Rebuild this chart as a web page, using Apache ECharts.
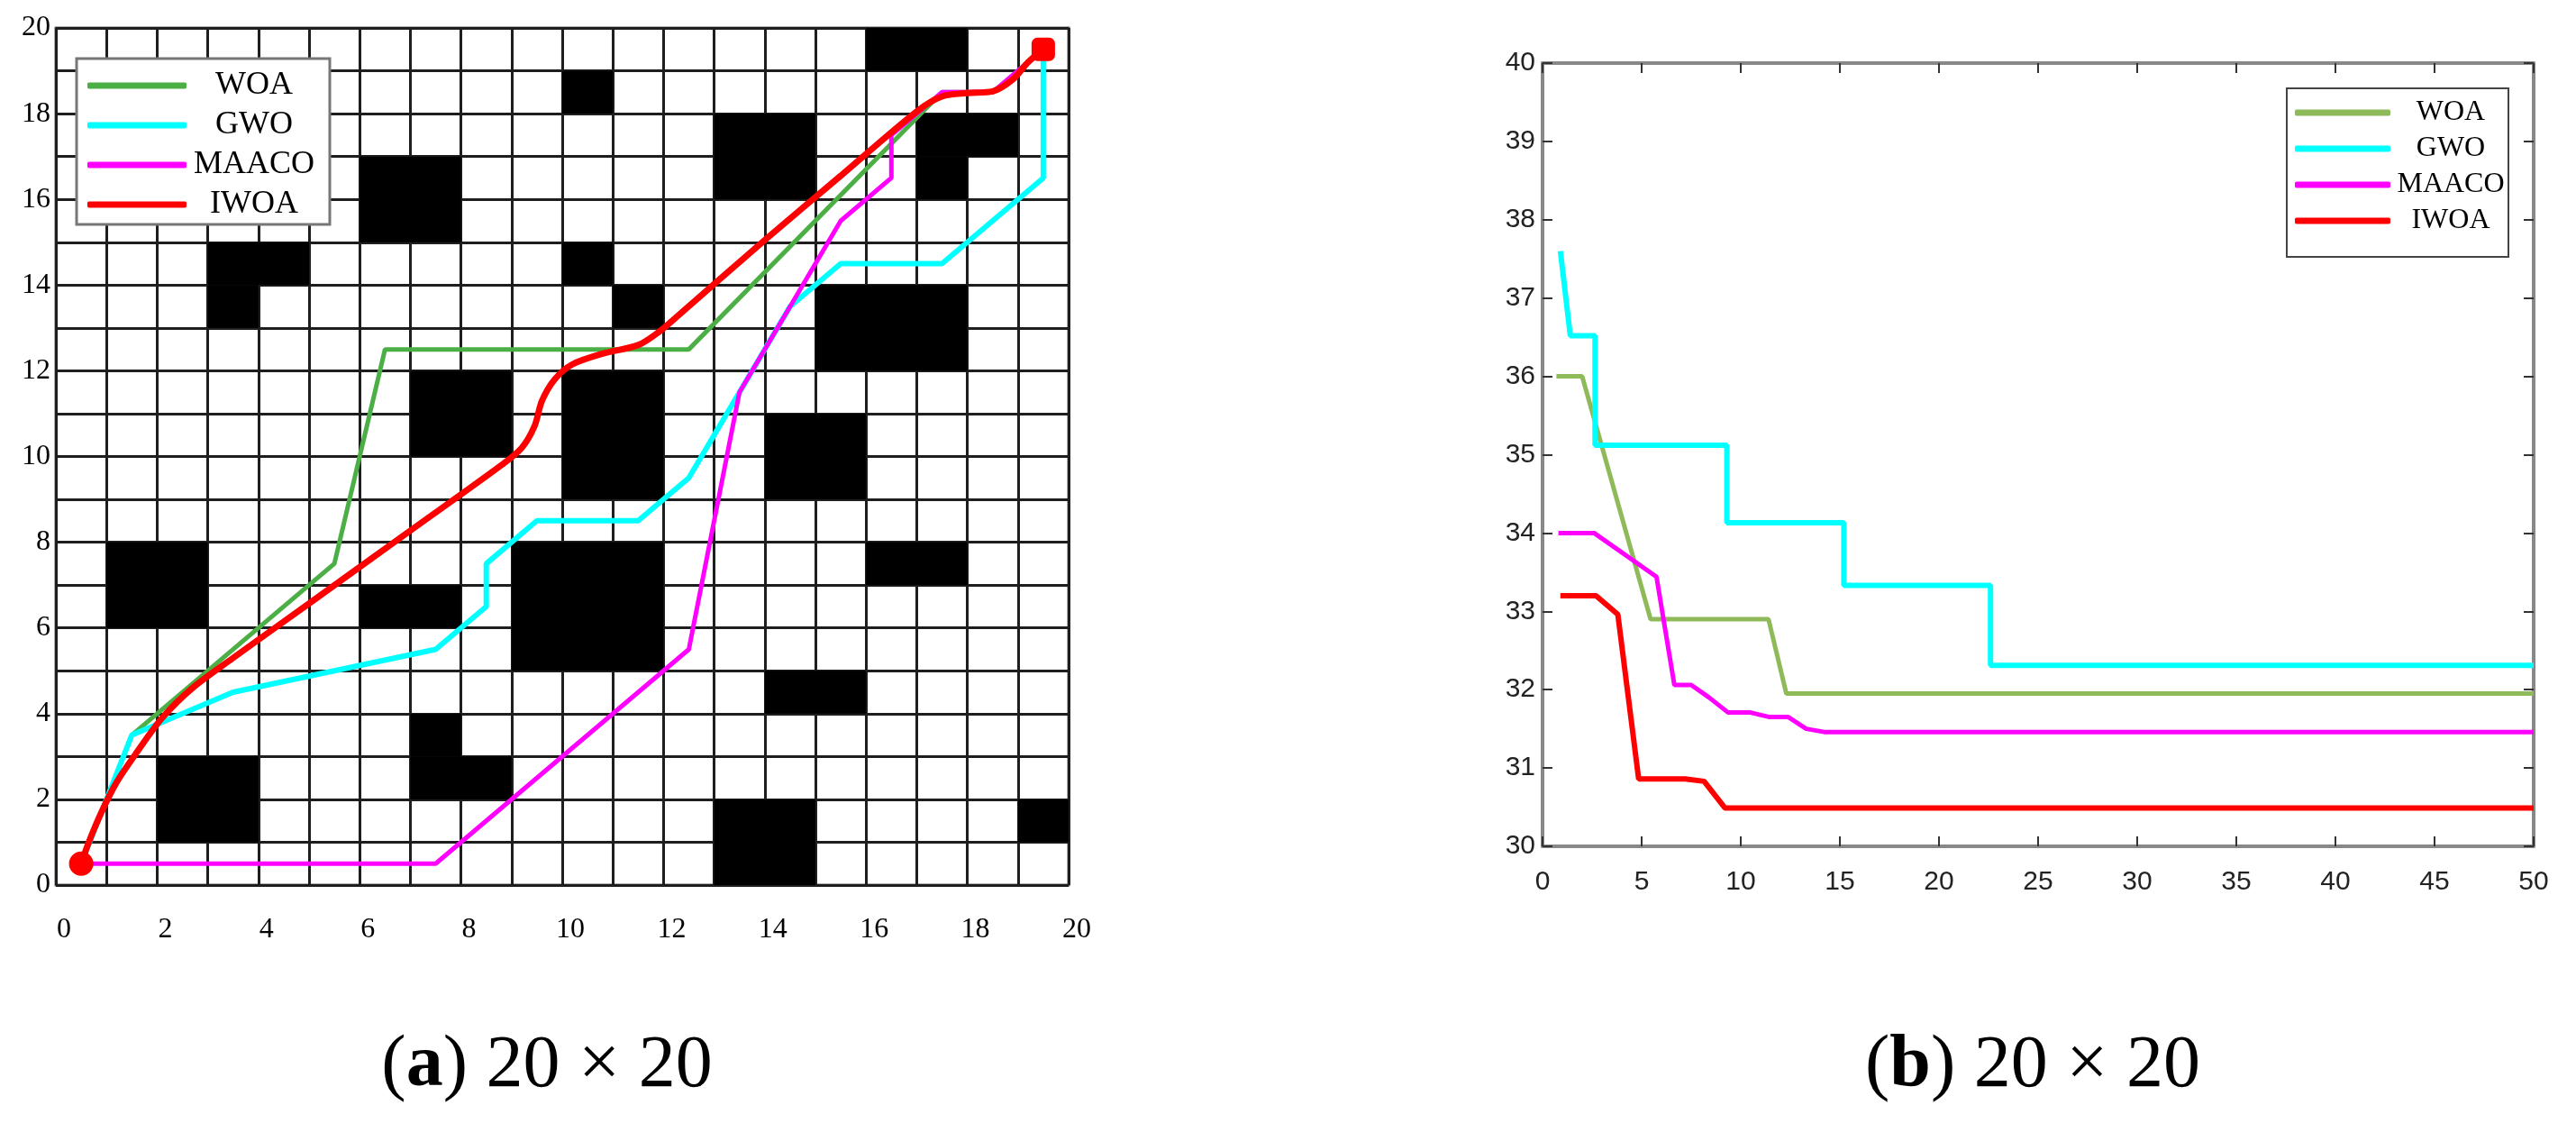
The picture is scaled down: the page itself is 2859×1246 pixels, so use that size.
<!DOCTYPE html>
<html>
<head>
<meta charset="utf-8">
<title>20 × 20</title>
<script src="https://cdn.jsdelivr.net/npm/echarts@6/dist/echarts.min.js"></script>
<style>
html, body { margin: 0; padding: 0; background: #fff; }
#main { width: 2859px; height: 1246px; }
</style>
</head>
<body>
<div id="main"></div>
<script>
// 栅格地图中的障碍物块 [x0, x1, y0, y1]
var obstacles = [
  [1, 3, 6, 8], [2, 4, 1, 3], [7, 8, 3, 4], [7, 9, 2, 3], [6, 8, 6, 7], [9, 12, 5, 8],
  [13, 15, 0, 2], [14, 16, 4, 5], [16, 18, 7, 8], [19, 20, 1, 2], [14, 16, 9, 11],
  [10, 12, 9, 12], [7, 9, 10, 12], [15, 18, 12, 14], [11, 12, 13, 14], [10, 11, 14, 15],
  [3, 5, 14, 15], [3, 4, 13, 14], [6, 8, 15, 17], [13, 15, 16, 18], [17, 19, 17, 18],
  [17, 18, 16, 17], [10, 11, 18, 19], [16, 18, 19, 20]
];

var names = ['WOA', 'GWO', 'MAACO', 'IWOA'];

// (a) 各算法路径
var woaPath = [[0.5, 0.5], [1.5, 3.5], [5.5, 7.5], [6.5, 12.5], [12.5, 12.5], [17.5, 18.5], [18.5, 18.5], [19.5, 19.5]];
var gwoPath = [[0.5, 0.5], [1.5, 3.5], [3.5, 4.5], [7.5, 5.5], [8.5, 6.5], [8.5, 7.5], [9.5, 8.5], [11.5, 8.5],
  [12.5, 9.5], [13.5, 11.5], [14.5, 13.5], [15.5, 14.5], [17.5, 14.5], [19.5, 16.5], [19.5, 19.5]];
var maacoPath = [[0.5, 0.5], [7.5, 0.5], [12.5, 5.5], [13.5, 11.5], [15.5, 15.5], [16.5, 16.5], [16.5, 17.5],
  [17.5, 18.5], [18.5, 18.5], [19.5, 19.5]];
var iwoaPath = [[0.5, 0.5], [0.65, 1.0], [0.9, 1.7], [1.2, 2.4], [1.6, 3.1], [2.1, 3.9], [2.7, 4.6], [3.5, 5.3],
  [5, 6.57], [7, 8.27], [8.8, 9.8], [9.2, 10.2], [9.45, 10.7], [9.6, 11.3], [9.85, 11.8], [10.2, 12.15],
  [10.8, 12.4], [11.5, 12.6], [11.9, 12.9], [12.3, 13.3], [14, 15.05], [15.5, 16.55], [17, 18.05],
  [17.5, 18.4], [18, 18.48], [18.5, 18.52], [18.9, 18.8], [19.2, 19.2], [19.5, 19.5]];
var startPoint = [0.5, 0.5];
var endPoint = [19.5, 19.5];

// (b) 收敛曲线
var woaCurve = [[0.7, 36], [2, 36], [5.45, 32.9], [11.4, 32.9], [12.3, 31.95], [50, 31.95]];
var gwoCurve = [[0.9, 37.6], [1.4, 36.52], [2.65, 36.52], [2.65, 35.12], [9.3, 35.12], [9.3, 34.13],
  [15.2, 34.13], [15.2, 33.33], [22.6, 33.33], [22.6, 32.31], [50, 32.31]];
var maacoCurve = [[0.8, 34], [2.6, 34], [5.75, 33.44], [6.65, 32.06], [7.5, 32.06], [8.4, 31.9], [9.35, 31.71],
  [10.45, 31.71], [11.45, 31.65], [12.4, 31.65], [13.3, 31.5], [14.2, 31.46], [50, 31.46]];
var iwoaCurve = [[0.9, 33.2], [2.7, 33.2], [3.8, 32.96], [4.85, 30.86], [7.2, 30.86], [8.15, 30.83],
  [9.2, 30.49], [50, 30.49]];

var colorsA = ['#4caf45', '#00ffff', '#ff00ff', '#ff0000'];
var colorsB = ['#8fba5a', '#00ffff', '#ff00ff', '#ff0000'];
var serif = '"Liberation Serif", "DejaVu Serif", serif';
var sans = '"Liberation Sans", Arial, sans-serif';

var chart = echarts.init(document.getElementById('main'), null, { renderer: 'canvas' });

var gridLine = { color: '#1e1e1e', width: 3 };

function boxAxis(gridIndex, pos, min, max, interval, showLabel) {
  return {
    type: 'value', gridIndex: gridIndex, position: pos, min: min, max: max, interval: interval,
    axisLine: { show: true, onZero: false, lineStyle: { color: '#888', width: 4 } },
    axisTick: { show: true, inside: true, length: 11, lineStyle: { color: '#333', width: 2 } },
    axisLabel: { show: showLabel, color: '#222', fontFamily: sans, fontSize: 30, margin: pos === 'bottom' ? 25 : 8 },
    splitLine: { show: false }
  };
}

var option = {
  animation: false,
  backgroundColor: '#fff',
  grid: [
    { left: 62, top: 31, width: 1124, height: 951, show: true, borderColor: '#666', borderWidth: 3 },
    { left: 1712, top: 70, width: 1100, height: 869 }
  ],
  xAxis: [
    {
      type: 'value', gridIndex: 0, min: 0, max: 20, interval: 2,
      axisLine: { show: false },
      axisTick: { show: false },
      axisLabel: { color: '#000', fontFamily: serif, fontSize: 32, margin: 34, padding: [0, 0, 0, 18] },
      splitLine: { show: true, lineStyle: gridLine },
      minorTick: { show: false, splitNumber: 2 },
      minorSplitLine: { show: true, lineStyle: gridLine }
    },
    boxAxis(1, 'bottom', 0, 50, 5, true),
    boxAxis(1, 'top', 0, 50, 5, false)
  ],
  yAxis: [
    {
      type: 'value', gridIndex: 0, min: 0, max: 20, interval: 2,
      axisLine: { show: false },
      axisTick: { show: false },
      axisLabel: { color: '#000', fontFamily: serif, fontSize: 32, margin: 6, padding: [10, 0, 0, 0] },
      splitLine: { show: true, lineStyle: gridLine },
      minorTick: { show: false, splitNumber: 2 },
      minorSplitLine: { show: true, lineStyle: gridLine }
    },
    boxAxis(1, 'left', 30, 40, 1, true),
    boxAxis(1, 'right', 30, 40, 1, false)
  ],
  legend: [
    {
      orient: 'vertical', left: 85, top: 65, selectedMode: false,
      icon: 'roundRect', itemWidth: 110, itemHeight: 7, itemGap: 8,
      padding: [12, 14, 4, 12], borderColor: '#777', borderWidth: 3, backgroundColor: '#fff',
      data: names.map(function (n, i) { return { name: n, itemStyle: { color: colorsA[i] } }; }),
      formatter: function (n) { return '{t|' + n + '}'; },
      textStyle: { rich: { t: { width: 140, align: 'center', fontSize: 36, lineHeight: 36, fontFamily: serif, color: '#000' } } }
    },
    {
      orient: 'vertical', left: 2538, top: 98, selectedMode: false,
      icon: 'roundRect', itemWidth: 106, itemHeight: 7, itemGap: 8,
      padding: [11, 2, 24, 9], borderColor: '#444', borderWidth: 2, backgroundColor: '#fff',
      data: names.map(function (n, i) { return { name: n, itemStyle: { color: colorsB[i] } }; }),
      formatter: function (n) { return '{t|' + n + '}'; },
      textStyle: { rich: { t: { width: 124, align: 'center', fontSize: 32, lineHeight: 32, fontFamily: serif, color: '#000' } } }
    }
  ],
  graphic: [
    {
      type: 'text', x: 607, y: 1183, silent: true,
      style: {
        text: '({b|a}) 20 × 20', align: 'center', verticalAlign: 'middle',
        font: '82px ' + serif, fill: '#000',
        rich: { b: { fontWeight: 'bold', fontSize: 82, fontFamily: serif, fill: '#000' } }
      }
    },
    {
      type: 'text', x: 2256, y: 1183, silent: true,
      style: {
        text: '({b|b}) 20 × 20', align: 'center', verticalAlign: 'middle',
        font: '82px ' + serif, fill: '#000',
        rich: { b: { fontWeight: 'bold', fontSize: 82, fontFamily: serif, fill: '#000' } }
      }
    }
  ],
  series: [
    {
      type: 'custom', xAxisIndex: 0, yAxisIndex: 0, silent: true,
      encode: { x: [0, 1], y: [2, 3] },
      data: obstacles,
      renderItem: function (params, api) {
        var p0 = api.coord([api.value(0), api.value(3)]);
        var p1 = api.coord([api.value(1), api.value(2)]);
        return {
          type: 'rect',
          shape: { x: p0[0], y: p0[1], width: p1[0] - p0[0], height: p1[1] - p0[1] },
          style: { fill: '#000' }
        };
      }
    },
    { name: 'WOA', type: 'line', xAxisIndex: 0, yAxisIndex: 0, data: woaPath, showSymbol: false,
      lineStyle: { color: colorsA[0], width: 5 }, itemStyle: { color: colorsA[0] } },
    { name: 'GWO', type: 'line', xAxisIndex: 0, yAxisIndex: 0, data: gwoPath, showSymbol: false,
      lineStyle: { color: colorsA[1], width: 6 }, itemStyle: { color: colorsA[1] } },
    { name: 'MAACO', type: 'line', xAxisIndex: 0, yAxisIndex: 0, data: maacoPath, showSymbol: false,
      lineStyle: { color: colorsA[2], width: 5 }, itemStyle: { color: colorsA[2] } },
    { name: 'IWOA', type: 'line', xAxisIndex: 0, yAxisIndex: 0, data: iwoaPath, showSymbol: false, smooth: 0.3,
      lineStyle: { color: colorsA[3], width: 7 }, itemStyle: { color: colorsA[3] } },
    {
      type: 'scatter', xAxisIndex: 0, yAxisIndex: 0, silent: true, z: 5,
      data: [
        { value: startPoint, symbol: 'circle', symbolSize: 27 },
        { value: endPoint, symbol: 'roundRect', symbolSize: 26 }
      ],
      itemStyle: { color: '#ff0000', opacity: 1 }
    },
    { name: 'WOA', type: 'line', xAxisIndex: 1, yAxisIndex: 1, data: woaCurve, showSymbol: false,
      lineStyle: { color: colorsB[0], width: 5 }, itemStyle: { color: colorsB[0] } },
    { name: 'GWO', type: 'line', xAxisIndex: 1, yAxisIndex: 1, data: gwoCurve, showSymbol: false,
      lineStyle: { color: colorsB[1], width: 6 }, itemStyle: { color: colorsB[1] } },
    { name: 'MAACO', type: 'line', xAxisIndex: 1, yAxisIndex: 1, data: maacoCurve, showSymbol: false,
      lineStyle: { color: colorsB[2], width: 5 }, itemStyle: { color: colorsB[2] } },
    { name: 'IWOA', type: 'line', xAxisIndex: 1, yAxisIndex: 1, data: iwoaCurve, showSymbol: false,
      lineStyle: { color: colorsB[3], width: 6 }, itemStyle: { color: colorsB[3] } }
  ]
};

chart.setOption(option);
</script>
</body>
</html>
